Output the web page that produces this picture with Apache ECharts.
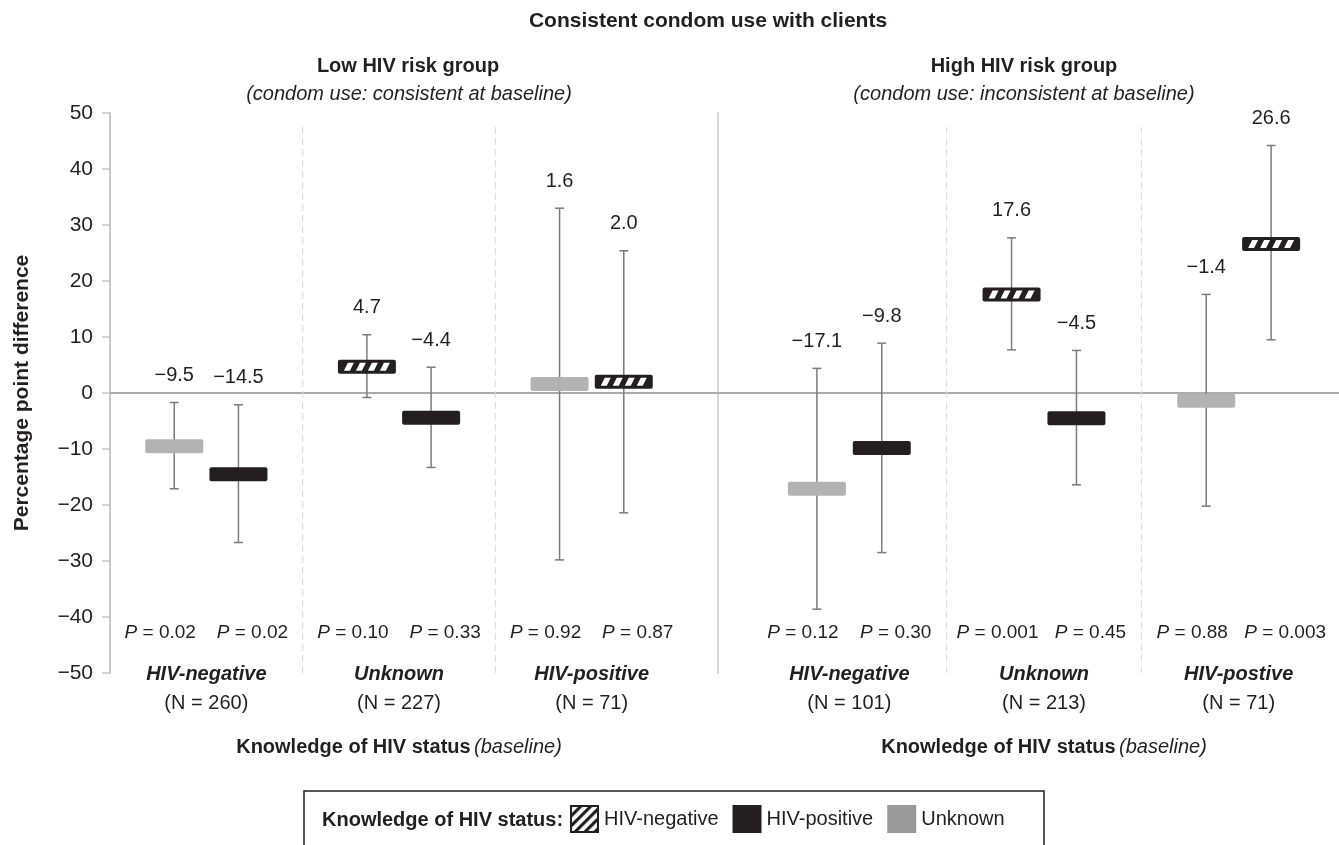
<!DOCTYPE html>
<html>
<head>
<meta charset="utf-8">
<script src="https://cdn.jsdelivr.net/npm/echarts@6/dist/echarts.min.js"></script>
<style>
html,body{margin:0;padding:0;background:#ffffff;}
#chart{width:1339px;height:845px;}
</style>
</head>
<body>
<div id="chart"></div>
<script>
// ---------------- data ----------------
const lowGroups = ['HIV-negative', 'Unknown', 'HIV-positive'];
const lowN = [260, 227, 71];
const highGroups = ['HIV-negative', 'Unknown', 'HIV-postive'];
const highN = [101, 213, 71];

// two comparisons per baseline group, in display order (left, right)
const lowStatus = ['Unknown', 'HIV-positive', 'HIV-negative', 'HIV-positive', 'Unknown', 'HIV-negative'];
const lowEst = [-9.5, -14.5, 4.7, -4.4, 1.6, 2.0];
const lowLo = [-17.1, -26.7, -0.8, -13.3, -29.8, -21.4];
const lowHi = [-1.7, -2.1, 10.4, 4.6, 33.0, 25.4];
const lowP = ['0.02', '0.02', '0.10', '0.33', '0.92', '0.87'];

const highStatus = ['Unknown', 'HIV-positive', 'HIV-negative', 'HIV-positive', 'Unknown', 'HIV-negative'];
const highEst = [-17.1, -9.8, 17.6, -4.5, -1.4, 26.6];
const highLo = [-38.6, -28.5, 7.7, -16.4, -20.2, 9.5];
const highHi = [4.4, 8.9, 27.7, 7.6, 17.6, 44.2];
const highP = ['0.12', '0.30', '0.001', '0.45', '0.88', '0.003'];

const yMin = -50, yMax = 50, yStep = 10;
const statuses = ['HIV-negative', 'HIV-positive', 'Unknown'];

// ---------------- styling ----------------
const FONT = '"Liberation Sans", Arial, sans-serif';
const INK = '#231f20';
const GRAY = '#b2b2b2';
const LEGEND_GRAY = '#9a9a9a';
const WHISKER = '#7b7b7b';
const minus = s => String(s).replace('-', '\u2212');

const hatchSvg = "<svg xmlns='http://www.w3.org/2000/svg' width='29' height='28' viewBox='0 0 29 28'>" +
  "<defs><pattern id='p' width='7' height='7' patternUnits='userSpaceOnUse' patternTransform='rotate(45)'>" +
  "<rect width='3.2' height='7' fill='#231f20'/></pattern></defs>" +
  "<rect x='1' y='1' width='27' height='26' fill='#ffffff'/>" +
  "<rect x='1' y='1' width='27' height='26' fill='url(#p)'/>" +
  "<rect x='1' y='1' width='27' height='26' fill='none' stroke='#231f20' stroke-width='2'/></svg>";
const HATCH_ICON = 'image://data:image/svg+xml;charset=utf-8,' + encodeURIComponent(hatchSvg);

function kindOf(status) {
  return status === 'HIV-negative' ? 'hatch' : (status === 'HIV-positive' ? 'black' : 'gray');
}

function makeRender(pArr, kind) {
  return function (params, api) {
    const g = api.value(0), slot = api.value(1);
    const est = api.value(2), lo = api.value(3), hi = api.value(4), idx = api.value(5);
    const band = api.size([1, 0])[0];
    const pE = api.coord([g, est]);
    const cx = pE[0] + (slot ? 1 : -1) * band / 6;
    const yE = pE[1];
    const yL = api.coord([g, lo])[1];
    const yH = api.coord([g, hi])[1];
    const cs = params.coordSys;
    const bw = 58, bh = 14, cap = 4.5;
    const ws = {stroke: WHISKER, lineWidth: 1.5};
    const ch = [
      {type: 'line', shape: {x1: cx, y1: yH, x2: cx, y2: yL}, style: ws},
      {type: 'line', shape: {x1: cx - cap, y1: yH, x2: cx + cap, y2: yH}, style: ws},
      {type: 'line', shape: {x1: cx - cap, y1: yL, x2: cx + cap, y2: yL}, style: ws},
      {type: 'rect', shape: {x: cx - bw / 2, y: yE - bh / 2, width: bw, height: bh, r: 2},
       style: {fill: kind === 'gray' ? GRAY : INK}}
    ];
    if (kind === 'hatch') {
      const yb = yE + 4, yt = yE - 4;
      for (let k = 0; k < 4; k++) {
        const sx = cx - 23 + k * 12;
        ch.push({type: 'polygon', shape: {points: [[sx, yb], [sx + 6, yb], [sx + 10, yt], [sx + 4, yt]]},
                 style: {fill: '#ffffff'}});
      }
    }
    ch.push({type: 'text', style: {text: minus(est.toFixed(1)), x: cx, y: yH - 27,
      fill: INK, fontSize: 20, fontFamily: FONT,
      align: 'center', verticalAlign: 'middle', textAlign: 'center', textVerticalAlign: 'middle'}});
    ch.push({type: 'text', style: {text: '{i|P} = ' + pArr[idx], x: cx + (slot ? 14 : -14), y: cs.y + cs.height - 40,
      fill: INK, fontSize: 19, fontFamily: FONT,
      rich: {i: {fontStyle: 'italic', fontSize: 19, fontFamily: FONT, fill: INK}},
      align: 'center', verticalAlign: 'middle', textAlign: 'center', textVerticalAlign: 'middle'}});
    return {type: 'group', children: ch};
  };
}

function panelSeries(axisIdx, statusArr, est, lo, hi, pArr) {
  const out = [];
  statuses.forEach(function (st) {
    const kind = kindOf(st);
    const data = [];
    statusArr.forEach(function (s, i) {
      if (s === st) data.push([Math.floor(i / 2), i % 2, est[i], lo[i], hi[i], i]);
    });
    out.push({
      type: 'custom', name: st, xAxisIndex: axisIdx, yAxisIndex: axisIdx, z: 5,
      itemStyle: {color: kind === 'gray' ? GRAY : INK},
      renderItem: makeRender(pArr, kind), data: data, silent: true
    });
  });
  return out;
}

function dividerSeries(axisIdx) {
  return {
    type: 'custom', xAxisIndex: axisIdx, yAxisIndex: axisIdx, silent: true, z: 1,
    data: [[1, 0], [2, 0]],
    renderItem: function (params, api) {
      const band = api.size([1, 0])[0];
      const x = api.coord([api.value(0), 0])[0] - band / 2;
      const cs = params.coordSys;
      return {type: 'line', shape: {x1: x, y1: cs.y + 14, x2: x, y2: cs.y + cs.height},
              style: {stroke: '#d9d9d9', lineWidth: 1, lineDash: [7, 4]}};
    }
  };
}

function catAxis(gridIdx, cats, ns) {
  return {
    type: 'category', gridIndex: gridIdx, data: cats, position: 'bottom', offset: -13,
    axisLine: {show: false, onZero: false}, axisTick: {show: false}, splitLine: {show: false},
    axisLabel: {
      interval: 0, margin: 0, color: INK,
      formatter: function (v, i) { return '{b|' + v + '}\n{n|(N = ' + ns[i] + ')}'; },
      rich: {
        b: {fontWeight: 'bold', fontStyle: 'italic', fontSize: 20, fontFamily: FONT, lineHeight: 29, color: INK},
        n: {fontSize: 20, fontFamily: FONT, lineHeight: 29, color: INK}
      }
    },
    name: '{b|Knowledge of HIV status} {i|(baseline)}',
    nameLocation: 'middle', nameGap: 77,
    nameTextStyle: {
      rich: {
        b: {fontWeight: 'bold', fontSize: 20, fontFamily: FONT, color: INK},
        i: {fontStyle: 'italic', fontSize: 20, fontFamily: FONT, color: INK}
      }
    }
  };
}

const chart = echarts.init(document.getElementById('chart'), null, {renderer: 'canvas'});

const txt = function (text, x, y, font) {
  return {type: 'text', x: x, y: y, silent: true,
    style: {text: text, font: font, fill: INK, align: 'center', verticalAlign: 'middle',
            textAlign: 'center', textVerticalAlign: 'middle'}};
};

const option = {
  animation: false,
  backgroundColor: '#ffffff',
  grid: [
    {left: 110, right: 0, top: 113, height: 560},
    {left: 110, width: 578, top: 113, height: 560},
    {left: 752, width: 584, top: 113, height: 560}
  ],
  xAxis: [
    {type: 'value', gridIndex: 0, min: 0, max: 1,
     axisLine: {show: true, onZero: true, lineStyle: {color: '#ababab', width: 2}},
     axisTick: {show: false}, axisLabel: {show: false}, splitLine: {show: false}},
    catAxis(1, lowGroups, lowN),
    catAxis(2, highGroups, highN)
  ],
  yAxis: [
    {type: 'value', gridIndex: 0, min: yMin, max: yMax, interval: yStep,
     axisLine: {show: true, onZero: false, lineStyle: {color: '#c8c8c8', width: 2}},
     axisTick: {show: true, inside: false, length: 8, lineStyle: {color: '#c8c8c8', width: 1.5}},
     splitLine: {show: false},
     axisLabel: {margin: 17, fontSize: 21, fontFamily: FONT, color: INK, formatter: function (v) { return minus(v); }},
     name: 'Percentage point difference', nameLocation: 'middle', nameGap: 77,
     nameTextStyle: {fontWeight: 'bold', fontSize: 21, fontFamily: FONT, color: INK}},
    {type: 'value', gridIndex: 1, min: yMin, max: yMax, interval: yStep, show: false},
    {type: 'value', gridIndex: 2, min: yMin, max: yMax, interval: yStep, position: 'left', offset: 34,
     axisLine: {show: true, onZero: false, lineStyle: {color: '#c8c8c8', width: 1.5}},
     axisTick: {show: false}, axisLabel: {show: false}, splitLine: {show: false}}
  ],
  legend: {
    left: 570, top: 805, padding: 0, itemWidth: 29, itemHeight: 28, itemGap: 14,
    selectedMode: false,
    textStyle: {fontSize: 20, fontFamily: FONT, color: INK},
    data: [
      {name: 'HIV-negative', icon: HATCH_ICON},
      {name: 'HIV-positive', icon: 'rect', itemStyle: {color: INK}},
      {name: 'Unknown', icon: 'rect', itemStyle: {color: LEGEND_GRAY}}
    ]
  },
  graphic: [
    txt('Consistent condom use with clients', 708, 21, 'bold 21px ' + FONT),
    txt('Low HIV risk group', 408, 66, 'bold 20px ' + FONT),
    txt('(condom use: consistent at baseline)', 409, 94, 'italic 20px ' + FONT),
    txt('High HIV risk group', 1024, 66, 'bold 20px ' + FONT),
    txt('(condom use: inconsistent at baseline)', 1024, 94, 'italic 20px ' + FONT),
    {type: 'rect', silent: true, shape: {x: 304, y: 791, width: 740, height: 80},
     style: {fill: 'none', stroke: INK, lineWidth: 1.5}},
    {type: 'text', x: 322, y: 820, silent: true,
     style: {text: 'Knowledge of HIV status:', font: 'bold 20px ' + FONT, fill: INK,
             align: 'left', verticalAlign: 'middle', textAlign: 'left', textVerticalAlign: 'middle'}}
  ],
  series: [].concat(
    [dividerSeries(1), dividerSeries(2)],
    panelSeries(1, lowStatus, lowEst, lowLo, lowHi, lowP),
    panelSeries(2, highStatus, highEst, highLo, highHi, highP)
  )
};

chart.setOption(option);
</script>
</body>
</html>
